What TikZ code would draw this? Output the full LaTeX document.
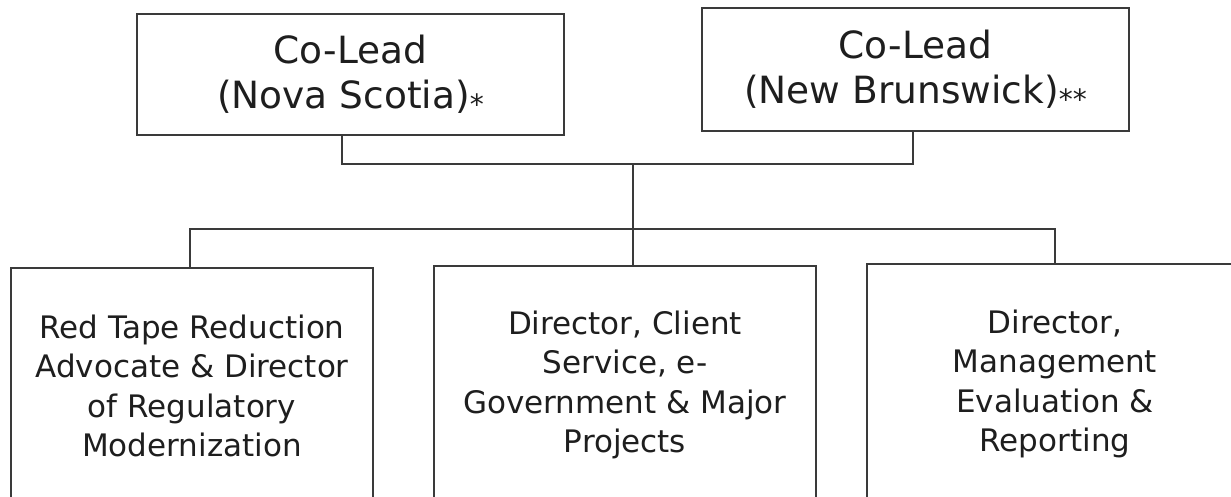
\documentclass[tikz,border=0pt]{standalone}
\usepackage{fontspec}
\setmainfont{DejaVu Sans}
\definecolor{linec}{HTML}{3A3A3A}
\definecolor{textc}{HTML}{1E1E1E}
\newcommand{\aster}[1]{{\fontsize{28}{28}\selectfont\raisebox{-6pt}{#1}}}
\begin{document}
\begin{tikzpicture}[x=1pt,y=-1pt,
  lead/.style={draw=linec, line width=1.6pt, fill=white, text=textc, align=center,
    inner sep=0pt, font=\fontsize{37.5}{45}\selectfont},
  unit/.style={draw=linec, line width=1.6pt, fill=white, text=textc, align=center,
    inner sep=0pt, font=\fontsize{31}{39.5}\selectfont},
  conn/.style={draw=linec, line width=1.6pt}]
\useasboundingbox (0,0) rectangle (1231,497);
\clip (0,0) rectangle (1231,497);
\fill[white] (0,0) rectangle (1231,497);

% top boxes
\node[lead, minimum width=427pt, minimum height=121pt] (ns) at (350.5,74.5)
  {Co-Lead\\(Nova Scotia)\aster{*}};
\node[lead, minimum width=427pt, minimum height=123pt] (nb) at (915.5,69.5)
  {Co-Lead\\(New Brunswick)\aster{**}};

% bottom boxes (cut by the lower edge)
\node[unit, minimum width=362pt, minimum height=236pt] (rt) at (192,386)
  {Red Tape Reduction\\Advocate \& Director\\of Regulatory\\Modernization};
\node[unit, minimum width=382pt, minimum height=238pt] (cs) at (625,385)
  {Director, Client\\Service, e-\\Government \& Major\\Projects};
\node[unit, minimum width=376pt, minimum height=240pt] (me) at (1055,384)
  {Director,\\Management\\Evaluation \&\\Reporting};

% junctions
\coordinate (j1) at (633,164);
\coordinate (j2) at (633,229);

% connectors
\draw[conn] (ns.south -| 342,0) |- (j1);
\draw[conn] (nb.south -| 913,0) |- (j1);
\draw[conn] (j1) -- (j2);
\draw[conn] (j2) -- (cs.north -| j2);
\draw[conn] (j2) -| (rt.north -| 190,0);
\draw[conn] (j2) -| (me.north);
\end{tikzpicture}
\end{document}
